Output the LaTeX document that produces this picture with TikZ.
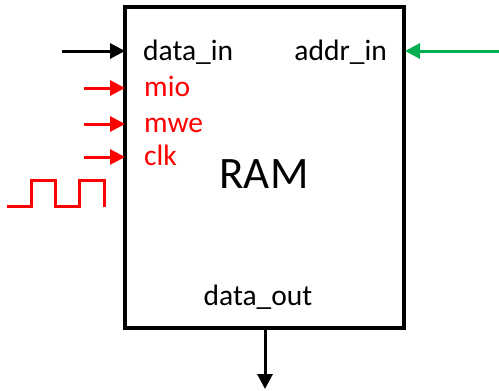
\documentclass[tikz,border=0pt]{standalone}
\usepackage{fontspec}
\setmainfont{Carlito}
\usetikzlibrary{arrows.meta}
\definecolor{sigred}{RGB}{255,0,0}
\definecolor{siggreen}{RGB}{0,176,80}
\begin{document}
\begin{tikzpicture}[x=1pt,y=-1pt,
  lbl/.style={inner sep=0pt,font=\fontsize{29.5}{31}\selectfont},
  sig/.style={line width=3pt,-{Triangle[length=15pt,width=15pt]}},
  box/.style={draw=black,line width=3.2pt}]
\useasboundingbox (0,0) rectangle (499,391);
\draw[box] (125,7) rectangle (404,328);
% labels
\node[lbl,anchor=base west] (din) at (143,60) {data\_in};
\node[lbl,anchor=base west,text=sigred] (mio) at (144,96) {mio};
\node[lbl,anchor=base west,text=sigred] (mwe) at (144,132) {mwe};
\node[lbl,anchor=base west,text=sigred] (clk) at (144,165) {clk};
\node[lbl,anchor=base east] (ain) at (387,60) {addr\_in};
\node[lbl,anchor=base] (dout) at (258,305) {data\_out};
\node[inner sep=0pt,font=\fontsize{45}{47}\selectfont,anchor=base] (ram) at (264,188) {RAM};
% arrow endpoints
\coordinate (dinS) at (62,51); \coordinate (dinE) at (125,51);
\coordinate (mioS) at (84,88); \coordinate (mioE) at (125,88);
\coordinate (mweS) at (84,124); \coordinate (mweE) at (125,124);
\coordinate (clkS) at (84,157); \coordinate (clkE) at (125,157);
\coordinate (ainS) at (499,51); \coordinate (ainE) at (405,51);
\coordinate (doutS) at (265,328); \coordinate (doutE) at (265,389);
\draw[sig] (dinS) -- (dinE);
\draw[sig,sigred] (mioS) -- (mioE);
\draw[sig,sigred] (mweS) -- (mweE);
\draw[sig,sigred] (clkS) -- (clkE);
\draw[sig,siggreen] (ainS) -- (ainE);
\draw[sig] (doutS) -- (doutE);
% clock waveform
\draw[sigred,line width=3pt] (7,206) -- (31,206) -- (31,180) -- (55,180) -- (55,206) -- (79,206) -- (79,180) -- (104,180) -- (104,207);
\end{tikzpicture}
\end{document}
